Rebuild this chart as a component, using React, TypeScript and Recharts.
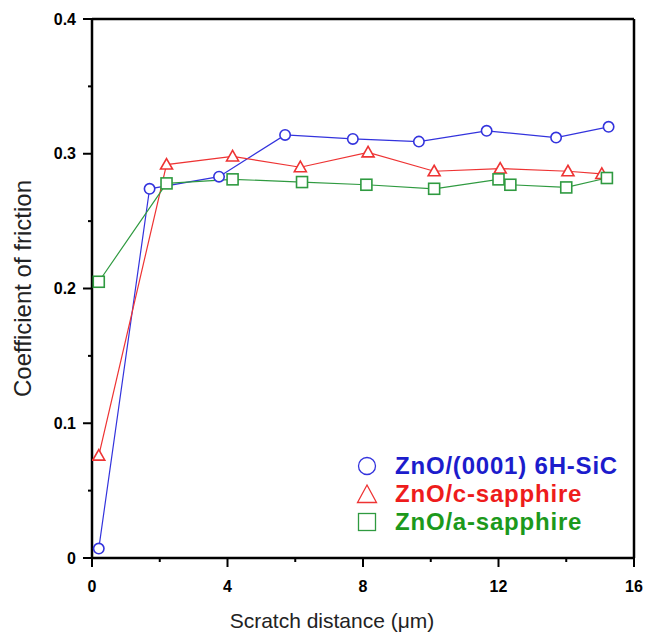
import React from "react"
import { LineChart, Line, XAxis, YAxis, ReferenceLine } from "recharts"

// scratch distance (µm) and coefficient of friction
const sicX = [0.2, 1.7, 3.75, 5.7, 7.7, 9.65, 11.65, 13.7, 15.25]
const sicY = [0.007, 0.274, 0.283, 0.314, 0.311, 0.309, 0.317, 0.312, 0.32]
const cSapX = [0.2, 2.2, 4.15, 6.15, 8.15, 10.1, 12.05, 14.05, 15.05]
const cSapY = [0.076, 0.292, 0.298, 0.29, 0.301, 0.287, 0.289, 0.287, 0.285]
const aSapX = [0.2, 2.2, 4.15, 6.2, 8.1, 10.1, 12.0, 12.35, 14.0, 15.2]
const aSapY = [0.205, 0.278, 0.281, 0.279, 0.277, 0.274, 0.281, 0.277, 0.275, 0.282]

const xTicks = [0, 2, 4, 6, 8, 10, 12, 14, 16]
const yTicks = [0, 0.05, 0.1, 0.15, 0.2, 0.25, 0.3, 0.35, 0.4]

const seriesNames = ["ZnO/(0001) 6H-SiC", "ZnO/c-sapphire", "ZnO/a-sapphire"]
const lineColors = ["#3333dd", "#ee3333", "#2f9a40"]
const textColors = ["#1c1ccc", "#ee1c1c", "#1c991c"]
const shapes = ["circle", "triangle", "square"]

const toPoints = (xs: number[], ys: number[]) => xs.map((x, i) => ({ x, y: ys[i] }))
const seriesData = [toPoints(sicX, sicY), toPoints(cSapX, cSapY), toPoints(aSapX, aSapY)]

const FONT = "Arial, 'Liberation Sans', Helvetica, sans-serif"

function Marker({ cx, cy, shape, color }: any) {
  if (cx == null || cy == null) return null
  if (shape === "circle") {
    return <circle cx={cx} cy={cy} r={5.2} fill="#fff" stroke={color} strokeWidth={1.6} />
  }
  if (shape === "triangle") {
    return (
      <path
        d={`M${cx},${cy - 6} L${cx + 6},${cy + 4.5} L${cx - 6},${cy + 4.5} Z`}
        fill="#fff"
        stroke={color}
        strokeWidth={1.6}
      />
    )
  }
  return <rect x={cx - 5.5} y={cy - 5.5} width={11} height={11} fill="#fff" stroke={color} strokeWidth={1.6} />
}

function LegendIcon({ shape, color }: { shape: string; color: string }) {
  return (
    <svg width={22} height={22} style={{ display: "block" }}>
      {shape === "circle" && <circle cx={11} cy={11} r={8.5} fill="none" stroke={color} strokeWidth={1.3} />}
      {shape === "triangle" && <path d="M11,2 L20.5,19.5 L1.5,19.5 Z" fill="none" stroke={color} strokeWidth={1.3} />}
      {shape === "square" && <rect x={2.5} y={2.5} width={17} height={17} fill="none" stroke={color} strokeWidth={1.3} />}
    </svg>
  )
}

function XTick({ x, y, payload }: any) {
  const v = payload.value
  const major = v % 4 === 0
  return (
    <g>
      <line x1={x} x2={x} y1={y} y2={y + (major ? 9 : 4)} stroke="#000" strokeWidth={2} />
      {major && (
        <text x={x} y={y + 28} textAnchor="middle" dominantBaseline="central" fontFamily={FONT} fontWeight="bold" fontSize={16} fill="#000">
          {v}
        </text>
      )}
    </g>
  )
}

function YTick({ x, y, payload }: any) {
  const v = payload.value
  const major = Math.abs(v * 10 - Math.round(v * 10)) < 1e-6
  return (
    <g>
      <line x1={x} x2={x - (major ? 9 : 4)} y1={y} y2={y} stroke="#000" strokeWidth={2} />
      {major && (
        <text x={x - 16} y={y} textAnchor="end" dominantBaseline="central" fontFamily={FONT} fontWeight="bold" fontSize={16} fill="#000">
          {v === 0 ? "0" : v.toFixed(1)}
        </text>
      )}
    </g>
  )
}

function LegendBox() {
  return (
    <div
      style={{
        position: "absolute",
        left: 356,
        top: 452,
        fontFamily: FONT,
        fontWeight: "bold",
        fontSize: 24,
        letterSpacing: 0.8,
        lineHeight: "28px",
      }}
    >
      {seriesNames.map((name, i) => (
        <div key={name} style={{ display: "flex", alignItems: "center", height: 28 }}>
          <LegendIcon shape={shapes[i]} color={lineColors[i]} />
          <span style={{ color: textColors[i], marginLeft: 17 }}>{name}</span>
        </div>
      ))}
    </div>
  )
}

export default function App() {
  return (
    <div style={{ position: "absolute", left: 0, top: 0, width: 645, height: 634 }}>
      <LineChart width={645} height={634} margin={{ top: 19, right: 11, left: 0, bottom: 0 }}>
        <XAxis
          type="number"
          dataKey="x"
          domain={[0, 16]}
          ticks={xTicks}
          interval={0}
          height={76}
          tickSize={0}
          tickMargin={0}
          tickLine={false}
          axisLine={{ stroke: "#000", strokeWidth: 2.5 }}
          tick={<XTick />}
          allowDataOverflow
          label={{
            content: ({ viewBox }: any) => (
              <text x={viewBox.x + 240} y={viewBox.y + 70} textAnchor="middle" fontFamily={FONT} fontSize={21} fill="#222">
                Scratch distance (μm)
              </text>
            ),
          }}
        />
        <YAxis
          type="number"
          dataKey="y"
          domain={[0, 0.4]}
          ticks={yTicks}
          interval={0}
          width={92}
          tickSize={0}
          tickMargin={0}
          tickLine={false}
          axisLine={{ stroke: "#000", strokeWidth: 2.5 }}
          tick={<YTick />}
          allowDataOverflow
          label={{
            content: ({ viewBox }: any) => (
              <text
                x={viewBox.x + 22}
                y={viewBox.y + viewBox.height / 2}
                transform={`rotate(-90, ${viewBox.x + 22}, ${viewBox.y + viewBox.height / 2})`}
                textAnchor="middle"
                dominantBaseline="central"
                fontFamily={FONT}
                fontSize={24}
                fill="#222"
              >
                Coefficient of friction
              </text>
            ),
          }}
        />
        <ReferenceLine y={0.4} stroke="#000" strokeWidth={2.5} />
        <ReferenceLine x={16} stroke="#000" strokeWidth={2.5} />
        {seriesData.map((data, i) => (
          <Line
            key={seriesNames[i]}
            data={data}
            dataKey="y"
            name={seriesNames[i]}
            type="linear"
            stroke={lineColors[i]}
            strokeWidth={1.2}
            dot={(p: any) => <Marker key={`${i}-${p.index}`} cx={p.cx} cy={p.cy} shape={shapes[i]} color={lineColors[i]} />}
            isAnimationActive={false}
          />
        ))}
      </LineChart>
      <LegendBox />
    </div>
  )
}
